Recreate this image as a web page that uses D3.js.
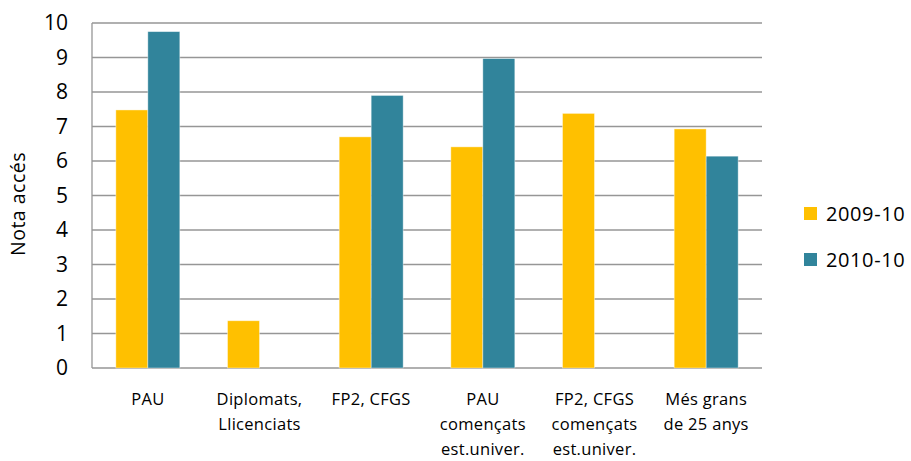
<!DOCTYPE html>
<html><head><meta charset="utf-8">
<script src="https://cdn.jsdelivr.net/npm/d3@7"></script>
<style>body{margin:0;background:#fff}svg{display:block}text{font-family:"Open Sans",sans-serif;fill:#000}</style>
</head><body><svg id="c" width="911" height="461"></svg>
<script>
const categories = [["PAU"],["Diplomats,","Llicenciats"],["FP2, CFGS"],["PAU","començats","est.univer."],["FP2, CFGS","començats","est.univer."],["Més grans","de 25 anys"]];
const seriesNames = ["2009-10","2010-10"];
const values2009 = [7.48, 1.37, 6.70, 6.41, 7.38, 6.93];
const values2010 = [9.75, null, 7.90, 8.97, null, 6.14];
const yTicks = [0,1,2,3,4,5,6,7,8,9,10];
const colors = ["#FFC000","#31849B"];

const svg = d3.select("#c");
const m = {l:92, t:23, r:149, b:93};
const W = 911 - m.l - m.r, H = 461 - m.t - m.b;
const g = svg.append("g").attr("transform",`translate(${m.l},${m.t})`);
const x = d3.scaleBand().domain(d3.range(categories.length)).range([0,W]).paddingInner(0.427).paddingOuter(0.2135);
const x1 = d3.scaleBand().domain([0,1]).range([0,x.bandwidth()]);
const y = d3.scaleLinear().domain([0,10]).range([H,0]);

g.selectAll(".grid").data(yTicks).join("line")
  .attr("x1",0).attr("x2",W).attr("y1",d=>y(d)).attr("y2",d=>y(d))
  .attr("stroke","#969696").attr("stroke-width",1.3);
g.append("line").attr("x1",0).attr("x2",0).attr("y1",0).attr("y2",H).attr("stroke","#969696").attr("stroke-width",1.3);

const data = [values2009, values2010];
data.forEach((vals,si)=>{
  g.selectAll(".b"+si).data(vals.map((v,i)=>({v,i})).filter(d=>d.v!=null)).join("rect")
    .attr("x",d=>x(d.i)+x1(si)).attr("width",x1.bandwidth())
    .attr("y",d=>y(d.v)).attr("height",d=>H-y(d.v))
    .attr("fill",colors[si]).attr("stroke","rgba(255,255,255,0.5)").attr("stroke-width",0.8);
});

g.selectAll(".yt").data(yTicks).join("text")
  .attr("x",-24).attr("y",d=>y(d)).attr("dy","0.35em").attr("text-anchor","end")
  .style("font-size","21px").text(d=>d);

categories.forEach((lines,i)=>{
  const t = g.append("text").attr("text-anchor","middle").style("font-size","16.5px").style("letter-spacing","0.3px")
    .attr("transform",`translate(${x(i)+x.bandwidth()/2},${H+37})`);
  lines.forEach((l,k)=>t.append("tspan").attr("x",0).attr("y",k*25).text(l));
});

svg.append("text").attr("transform","translate(25,204) rotate(-90)").attr("text-anchor","middle")
  .style("font-size","19.5px").style("letter-spacing","0.5px").text("Nota accés");

seriesNames.forEach((s,i)=>{
  const ly = 207 + i*46;
  svg.append("rect").attr("x",804).attr("y",ly).attr("width",13).attr("height",13).attr("fill",colors[i]);
  svg.append("text").attr("x",826).attr("y",ly+6.5).attr("dy","0.35em").style("font-size","20px").style("letter-spacing","0.6px").text(s);
});
</script></body></html>
